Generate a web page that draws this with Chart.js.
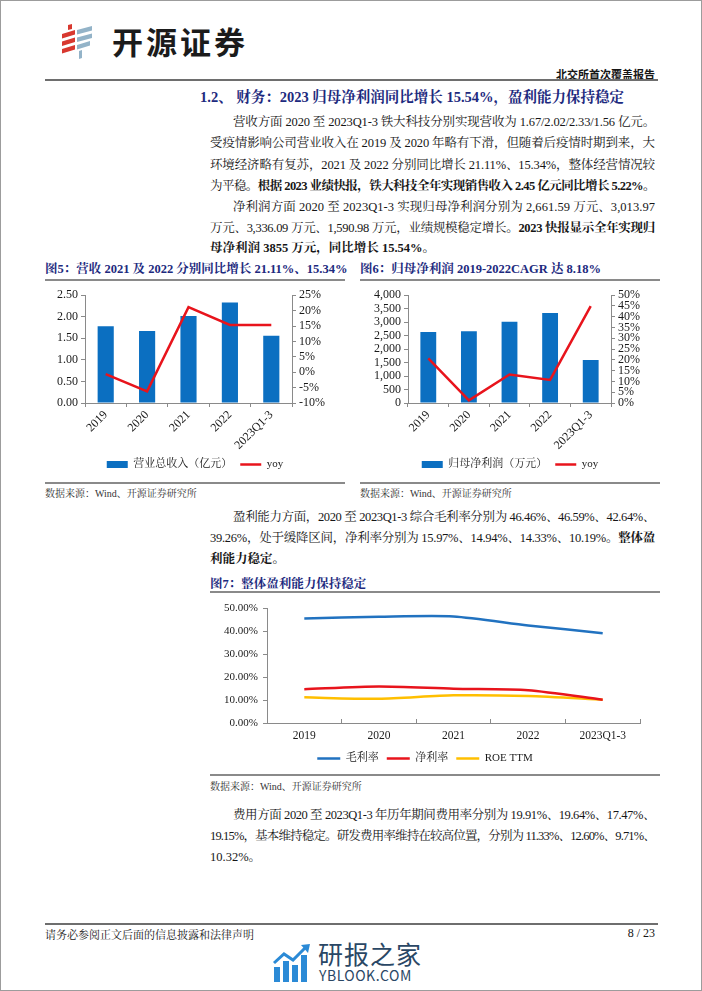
<!DOCTYPE html>
<html>
<head>
<meta charset="utf-8">
<script src="https://cdn.jsdelivr.net/npm/chart.js@4.4.1/dist/chart.umd.min.js"></script>
<style>
  html, body { margin: 0; padding: 0; background: #fff; }
  #page { position: relative; width: 702px; height: 991px; overflow: hidden;
    font-family: 'Liberation Serif', 'Noto Serif CJK SC', 'Noto Sans CJK SC', serif; color: #161616; }
  .frame { position: absolute; left: 0; top: 0; width: 700px; height: 989px; border: 1px solid #9c9c9c; }
  .ab { position: absolute; white-space: nowrap; }
  .ln { position: absolute; font-size: 12.5px; line-height: 16px; height: 16px; white-space: nowrap; }
  .rule { position: absolute; background: #8a8a8a; height: 1.5px; }
  .navy { color: #1d2a7e; font-weight: bold; }
  .src { position: absolute; font-size: 10px; color: #333; white-space: nowrap; }
  canvas { position: absolute; }
</style>
</head>
<body>
<div id="page">
  <div class="frame"></div>

  <!-- header -->
  <svg class="ab" style="left:60px;top:24px" width="34" height="36" viewBox="0 0 34 36">
    <polygon points="8,1 12,0 12,5 8,6" fill="#d8382f"/>
    <polygon points="2,10 15,6 15,10.5 2,14.5" fill="#d8382f"/>
    <polygon points="2,17.5 15,13.5 15,18 2,22" fill="#d8382f"/>
    <polygon points="2,25 15,21 15,25.5 2,29.5" fill="#d8382f"/>
    <polygon points="17,6 32,2 32,6.5 17,10.5" fill="#93b3c8"/>
    <polygon points="17,13.5 32,9.5 32,14 17,18" fill="#93b3c8"/>
    <polygon points="17,21 30,17 30,21.5 17,25.5" fill="#93b3c8"/>
    <polygon points="19,27 22,26 22,34 19,35" fill="#93b3c8"/>
  </svg>
  <div class="ab" style="left:112px;top:21px;font-family:'Noto Sans CJK SC';font-weight:700;font-size:31px;line-height:40px;letter-spacing:3px;color:#1b1b1b">开源证券</div>
  <div class="ab" style="right:47px;top:66px;font-size:11px;font-weight:bold;font-family:'Noto Sans CJK SC'">北交所首次覆盖报告</div>
  <div class="rule" style="left:45px;top:79px;width:613px;height:2px;background:#6e6e6e"></div>

  <!-- section heading and paragraphs -->
  <div class="ab navy" style="left:200px;top:88px;font-size:14.5px;line-height:18px">1.2、 财务：2023 归母净利润同比增长 15.54%，盈利能力保持稳定</div>

  <div class="ln" style="left:233px;top:114px;width:422px">营收方面 2020 至 2023Q1-3 铁大科技分别实现营收为 1.67/2.02/2.33/1.56 亿元。</div>
  <div class="ln" style="left:210px;top:135px;width:445px">受疫情影响公司营业收入在 2019 及 2020 年略有下滑，但随着后疫情时期到来，大</div>
  <div class="ln" style="left:210px;top:157px;width:445px">环境经济略有复苏，2021 及 2022 分别同比增长 21.11%、15.34%，整体经营情况较</div>
  <div class="ln" style="left:210px;top:178px;width:445px">为平稳。<b>根据 2023 业绩快报，铁大科技全年实现销售收入 2.45 亿元同比增长 5.22%。</b></div>

  <div class="ln" style="left:233px;top:199px;width:422px">净利润方面 2020 至 2023Q1-3 实现归母净利润分别为 2,661.59 万元、3,013.97</div>
  <div class="ln" style="left:210px;top:220px;width:445px">万元、3,336.09 万元、1,590.98 万元，业绩规模稳定增长。<b>2023 快报显示全年实现归</b></div>
  <div class="ln last" style="left:210px;top:240px;width:445px"><b>母净利润 3855 万元，同比增长 15.54%。</b></div>

  <!-- figure 5 / 6 -->
  <div class="ab navy" style="left:45px;top:261px;font-size:12.5px;line-height:16px">图5：营收 2021 及 2022 分别同比增长 21.11%、15.34%</div>
  <div class="ab navy" style="left:360px;top:261px;font-size:12.5px;line-height:16px">图6：归母净利润 2019-2022CAGR 达 8.18%</div>
  <div class="rule" style="left:45px;top:279px;width:300px"></div>
  <div class="rule" style="left:360px;top:279px;width:300px"></div>
  <canvas id="revChart" width="300" height="195" style="left:45px;top:285px"></canvas>
  <canvas id="profitChart" width="300" height="195" style="left:360px;top:285px"></canvas>
  <div class="rule" style="left:45px;top:482px;width:300px"></div>
  <div class="rule" style="left:360px;top:482px;width:300px"></div>
  <div class="src" style="left:45px;top:485px">数据来源：Wind、开源证券研究所</div>
  <div class="src" style="left:360px;top:485px">数据来源：Wind、开源证券研究所</div>

  <div class="ln" style="left:233px;top:509px;width:422px">盈利能力方面，2020 至 2023Q1-3 综合毛利率分别为 46.46%、46.59%、42.64%、</div>
  <div class="ln" style="left:210px;top:530px;width:445px">39.26%，处于缓降区间，净利率分别为 15.97%、14.94%、14.33%、10.19%。<b>整体盈</b></div>
  <div class="ln last" style="left:210px;top:551px;width:445px"><b>利能力稳定。</b></div>

  <!-- figure 7 -->
  <div class="ab navy" style="left:210px;top:576px;font-size:12.5px;line-height:16px">图7：整体盈利能力保持稳定</div>
  <div class="rule" style="left:210px;top:591px;width:450px"></div>
  <canvas id="marginChart" width="450" height="177" style="left:210px;top:597px"></canvas>
  <div class="rule" style="left:210px;top:774px;width:450px"></div>
  <div class="src" style="left:210px;top:778px">数据来源：Wind、开源证券研究所</div>

  <div class="ln" style="left:233px;top:807px;width:422px">费用方面 2020 至 2023Q1-3 年历年期间费用率分别为 19.91%、19.64%、17.47%、</div>
  <div class="ln" style="left:210px;top:828px;width:445px">19.15%，基本维持稳定。研发费用率维持在较高位置，分别为 11.33%、12.60%、9.71%、</div>
  <div class="ln last" style="left:210px;top:849px;width:445px">10.32%。</div>

  <!-- footer -->
  <div class="rule" style="left:45px;top:923px;width:613px;height:2px;background:#6e6e6e"></div>
  <div class="ab" style="left:45px;top:926px;font-size:11px">请务必参阅正文后面的信息披露和法律声明</div>
  <div class="ab" style="right:47px;top:926px;font-size:12px">8 / 23</div>

  <svg class="ab" style="left:272px;top:943px" width="40" height="40" viewBox="0 0 40 40">
    <rect x="2" y="24" width="6" height="15" fill="#2b8ad6"/>
    <rect x="11" y="18" width="6" height="21" fill="#2b8ad6"/>
    <rect x="20" y="22" width="6" height="17" fill="#2b8ad6"/>
    <rect x="29" y="12" width="6" height="27" fill="#2b8ad6"/>
    <polyline points="2,20 12,11 21,17 34,4" fill="none" stroke="#2b8ad6" stroke-width="3"/>
    <polygon points="29,2 38,1 36,10" fill="#2b8ad6"/>
  </svg>
  <div class="ab" style="left:318px;top:938px;font-family:'Noto Sans CJK SC';font-size:25px;line-height:30px;color:#2a4765;letter-spacing:1px">研报之家</div>
  <div class="ab" style="left:319px;top:966px;font-family:'Noto Sans CJK SC';font-size:14px;line-height:18px;color:#2a4765;letter-spacing:0.5px">YBLOOK.COM</div>
</div>

<script>
const years = ['2019', '2020', '2021', '2022', '2023Q1-3'];

// 营业总收入（亿元）and yoy (%)
const revenue = [1.78, 1.67, 2.02, 2.33, 1.56];
const revenueYoy = [-0.6, -6.2, 21.11, 15.34, 15.34];

// 归母净利润（万元）and yoy (%)
const netProfit = [2630, 2661.59, 3013.97, 3336.09, 1590.98];
const netProfitYoy = [20.7, 1.2, 13.24, 10.69, 44.9];

// 毛利率 / 净利率 / ROE TTM (%)
const grossMargin = [45.7, 46.46, 46.59, 42.64, 39.26];
const netMargin = [14.8, 15.97, 14.94, 14.33, 10.19];
const roeTtm = [11.2, 10.6, 12.1, 11.8, 10.2];

const BLUE = '#0b6fc1';
const RED = '#e8141c';
const LINE_BLUE = '#2172c0';
const ORANGE = '#ffbf00';
const AXIS = '#8a8a8a';

// stretch each full text line to its column width (justified like the report)
document.querySelectorAll('.ln').forEach((el) => {
  const span = document.createElement('span');
  while (el.firstChild) span.appendChild(el.firstChild);
  el.appendChild(span);
  if (el.classList.contains('last')) return;
  const extra = el.clientWidth - span.getBoundingClientRect().width;
  el.style.letterSpacing = (extra / el.textContent.length) + 'px';
});

Chart.defaults.font.family = "'Liberation Serif', 'Noto Serif CJK SC', 'Noto Sans CJK SC', serif";
Chart.defaults.font.size = 11;
Chart.defaults.color = '#1a1a1a';
Chart.defaults.animation = false;

function legendItems(chart) {
  return chart.data.datasets.map((ds, i) => {
    const isLine = (ds.type || chart.config.type) === 'line';
    return {
      text: ds.label,
      datasetIndex: i,
      fillStyle: isLine ? ds.borderColor : ds.backgroundColor,
      strokeStyle: isLine ? ds.borderColor : ds.backgroundColor,
      lineWidth: isLine ? 2.5 : 0,
      pointStyle: isLine ? 'line' : 'rect',
      fontColor: '#1a1a1a',
      hidden: false,
    };
  });
}

function legendOpts(swatch) {
  return {
    position: 'bottom',
    labels: {
      usePointStyle: true,
      pointStyleWidth: swatch,
      boxHeight: 7,
      padding: 8,
      font: { size: 11 },
      generateLabels: legendItems,
    },
  };
}

function sideAxis(pos, min, max, step, fmt, width) {
  return {
    position: pos,
    min,
    max,
    grid: { drawOnChartArea: false, color: AXIS, tickLength: 4 },
    border: { color: AXIS },
    ticks: { stepSize: step, autoSkip: false, padding: 3, font: { size: 12 }, callback: fmt },
    afterFit(scale) { scale.width = width; },
  };
}

function comboChart(id, barLabel, bars, yoy, left, right) {
  // eslint-disable-next-line no-undef
  new Chart(document.getElementById(id), {
    type: 'bar',
    data: {
      labels: years,
      datasets: [
        {
          type: 'bar',
          label: barLabel,
          data: bars,
          backgroundColor: BLUE,
          yAxisID: 'y',
          order: 1,
          barPercentage: 0.39,
          categoryPercentage: 1,
        },
        {
          type: 'line',
          label: 'yoy',
          data: yoy,
          borderColor: RED,
          borderWidth: 2.5,
          pointRadius: 0,
          tension: 0,
          yAxisID: 'y1',
          order: 0,
        },
      ],
    },
    options: {
      responsive: false,
      devicePixelRatio: 1,
      layout: { padding: { top: 10, bottom: 0, left: 0, right: 0 } },
      plugins: { tooltip: { enabled: false }, legend: legendOpts(21) },
      scales: {
        x: {
          offset: true,
          grid: { display: true, drawOnChartArea: false, offset: true, color: AXIS, tickLength: 4 },
          border: { color: AXIS },
          ticks: { minRotation: 45, maxRotation: 45, autoSkip: false, padding: 1, font: { size: 12 } },
          afterFit(scale) { scale.height = 48; },
        },
        y: sideAxis('left', left.min, left.max, left.step, left.fmt, left.width),
        y1: sideAxis('right', right.min, right.max, right.step, right.fmt, right.width),
      },
    },
  });
}

comboChart('revChart', '营业总收入（亿元）', revenue, revenueYoy,
  { min: 0, max: 2.5, step: 0.5, fmt: (v) => v.toFixed(2), width: 40 },
  { min: -10, max: 25, step: 5, fmt: (v) => v + '%', width: 53 });

comboChart('profitChart', '归母净利润（万元）', netProfit, netProfitYoy,
  { min: 0, max: 4000, step: 500, fmt: (v) => v.toLocaleString('en-US'), width: 48 },
  { min: 0, max: 50, step: 5, fmt: (v) => v + '%', width: 49 });

// eslint-disable-next-line no-undef
new Chart(document.getElementById('marginChart'), {
  type: 'line',
  data: {
    labels: years,
    datasets: [
      { label: '毛利率', data: grossMargin, borderColor: LINE_BLUE, borderWidth: 2.5, pointRadius: 0, tension: 0.25 },
      { label: '净利率', data: netMargin, borderColor: RED, borderWidth: 2.5, pointRadius: 0, tension: 0.25 },
      { label: 'ROE TTM', data: roeTtm, borderColor: ORANGE, borderWidth: 2.5, pointRadius: 0, tension: 0.25 },
    ],
  },
  options: {
    responsive: false,
    devicePixelRatio: 1,
    layout: { padding: { top: 10, bottom: 0, left: 0, right: 20 } },
    plugins: { tooltip: { enabled: false }, legend: legendOpts(23) },
    scales: {
      x: {
        offset: true,
        grid: { display: true, drawOnChartArea: false, offset: true, color: AXIS, tickLength: -4 },
        border: { color: AXIS },
        ticks: { padding: 10, font: { size: 11.5 } },
        afterFit(scale) { scale.height = 22; },
      },
      y: {
        min: 0,
        max: 50,
        grid: { drawOnChartArea: false, color: AXIS, tickLength: 4 },
        border: { color: AXIS },
        ticks: { stepSize: 10, padding: 5, callback: (v) => v.toFixed(2) + '%' },
        afterFit(scale) { scale.width = 57; },
      },
    },
  },
});
</script>
</body>
</html>
